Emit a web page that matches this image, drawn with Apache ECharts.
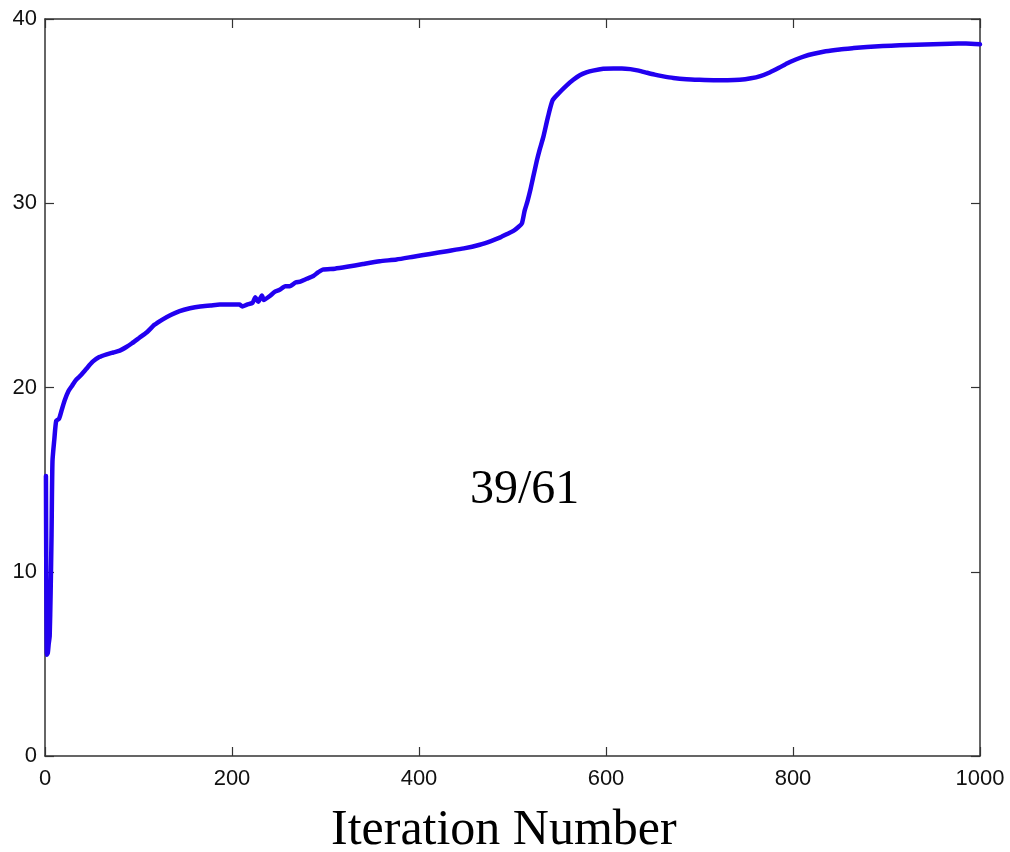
<!DOCTYPE html>
<html>
<head>
<meta charset="utf-8">
<style>
  html, body { margin: 0; padding: 0; background: #fff; }
  #chart { width: 1010px; height: 852px; }
</style>
<script src="https://cdn.jsdelivr.net/npm/echarts@6/dist/echarts.min.js"></script>
</head>
<body>
<div id="chart"></div>
<script>
// Iteration index along the run
const iterations = [
  1, 2, 3, 4, 5, 6, 7, 8, 10, 12, 15, 18, 21, 25, 29, 33, 37, 44, 51, 58,
  66, 73, 80, 87, 93, 101, 109, 117, 126, 135, 144, 155, 166, 177, 187, 198,
  208, 211, 216, 222, 225, 228, 232, 234, 240, 246, 251, 257, 262, 268, 273,
  280, 287, 292, 297, 310, 323, 340, 358, 376, 394, 412, 430, 448, 465, 477,
  487, 495, 501, 506, 510, 513, 516, 519, 522, 526, 529, 533, 538, 543, 550,
  558, 565, 572, 579, 586, 597, 608, 617, 626, 635, 644, 652, 660, 672, 686,
  700, 715, 730, 743, 755, 765, 775, 785, 794, 803, 812, 821, 835, 850, 865,
  879, 896, 914, 932, 950, 968, 985, 1000
];

// Objective value at each iteration
const values = [
  15.2, 5.5, 5.6, 6.1, 6.5, 8.8, 12.0, 16.0, 17.2, 18.2, 18.3, 18.8, 19.3, 19.8, 20.1, 20.4, 20.6, 21.0, 21.4, 21.65,
  21.8, 21.9, 22.0, 22.2, 22.4, 22.7, 23.0, 23.4, 23.7, 23.95, 24.15, 24.3, 24.4, 24.45, 24.5, 24.5,
  24.5, 24.4, 24.5, 24.6, 24.9, 24.65, 25.0, 24.75, 24.95, 25.2, 25.3, 25.5, 25.5, 25.7, 25.75,
  25.9, 26.05, 26.25, 26.4, 26.45, 26.55, 26.7, 26.85, 26.95, 27.1, 27.25, 27.4, 27.55, 27.75, 27.95,
  28.15, 28.35, 28.5, 28.7, 28.9, 29.6, 30.1, 30.7, 31.4, 32.3, 32.9, 33.6, 34.7, 35.6, 36.0,
  36.4, 36.7, 36.95, 37.1, 37.2, 37.3, 37.32, 37.32, 37.28, 37.2, 37.08, 36.98, 36.9, 36.8, 36.73,
  36.7, 36.68, 36.68, 36.7, 36.78, 36.9, 37.1, 37.35, 37.6, 37.8, 37.97, 38.1, 38.25, 38.35, 38.42,
  38.48, 38.53, 38.57, 38.6, 38.63, 38.66, 38.67, 38.63
];

const xTicks = [0, 200, 400, 600, 800, 1000];
const yTicks = [0, 10, 20, 30, 40];
const xTitle = 'Iteration Number';
const centerNote = '39/61';

const points = iterations.map((it, i) => [it, values[i]]);

const axisColor = '#333';
const labelFont = { fontFamily: 'Liberation Sans, Arial, sans-serif', fontSize: 22, color: '#111' };
const plainNumber = (v) => String(v);

function frameAxis(position, showLabels, extra) {
  return Object.assign({
    type: 'value',
    position: position,
    axisLine: { show: true, onZero: false, lineStyle: { color: axisColor, width: 1.5 } },
    axisTick: { show: true, inside: true, length: 9, lineStyle: { color: axisColor, width: 1.2 } },
    axisLabel: Object.assign({ show: showLabels, formatter: plainNumber }, labelFont),
    splitLine: { show: false }
  }, extra);
}

const chart = echarts.init(document.getElementById('chart'), null, { renderer: 'canvas' });
chart.setOption({
  animation: false,
  backgroundColor: '#ffffff',
  grid: { left: 45, right: 30, top: 19, bottom: 96, containLabel: false },
  xAxis: [
    frameAxis('bottom', true, { min: xTicks[0], max: xTicks[xTicks.length - 1], interval: 200,
      axisLabel: Object.assign({ show: true, margin: 12, formatter: plainNumber }, labelFont) }),
    frameAxis('top', false, { min: xTicks[0], max: xTicks[xTicks.length - 1], interval: 200 })
  ],
  yAxis: [
    frameAxis('left', true, { min: yTicks[0], max: yTicks[yTicks.length - 1], interval: 10,
      axisLabel: Object.assign({ show: true, margin: 8, formatter: plainNumber }, labelFont) }),
    frameAxis('right', false, { min: yTicks[0], max: yTicks[yTicks.length - 1], interval: 10 })
  ],
  series: [{
    type: 'line',
    data: points,
    xAxisIndex: 0,
    yAxisIndex: 0,
    showSymbol: false,
    smooth: 0.2,
    lineStyle: { color: '#2200f0', width: 4.5, join: 'round', cap: 'round' },
    clip: true
  }],
  graphic: [
    {
      type: 'text',
      left: 505 - 174,
      top: 806,
      style: {
        text: xTitle,
        fontFamily: 'Liberation Serif, Times New Roman, serif',
        fontSize: 50,
        fill: '#000'
      }
    },
    {
      type: 'text',
      left: 470,
      top: 466,
      style: {
        text: centerNote,
        fontFamily: 'Liberation Serif, Times New Roman, serif',
        fontSize: 48,
        fill: '#000'
      }
    }
  ]
});
</script>
</body>
</html>
